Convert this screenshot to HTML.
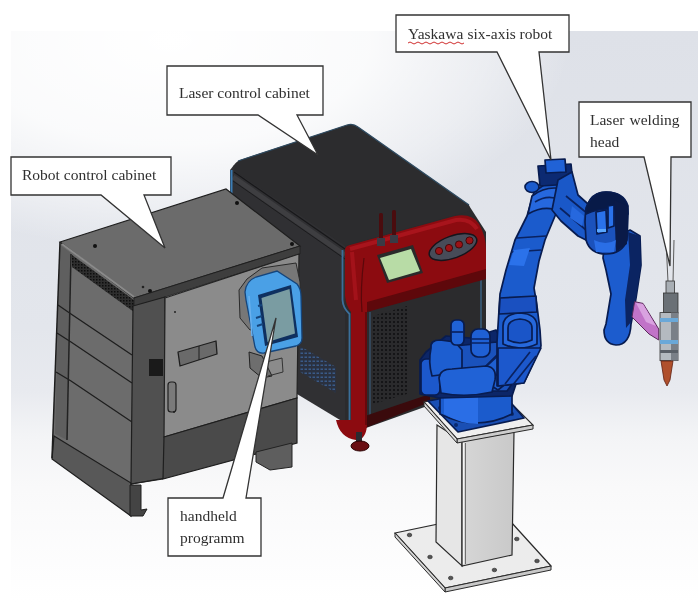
<!DOCTYPE html>
<html><head><meta charset="utf-8">
<style>
html,body{margin:0;padding:0;background:#fff;width:700px;height:602px;overflow:hidden}
svg{display:block;filter:blur(0.45px)}
text{font-family:"Liberation Serif",serif;font-size:15.5px;fill:#303030}
</style></head><body>
<svg width="700" height="602" viewBox="0 0 700 602">
<defs>
<linearGradient id="bg" x1="0" y1="31" x2="0" y2="602" gradientUnits="userSpaceOnUse">
<stop offset="0" stop-color="#dee1e8"/>
<stop offset="0.52" stop-color="#e3e6ec"/>
<stop offset="0.63" stop-color="#e8eaef"/>
<stop offset="0.71" stop-color="#f3f4f6"/>
<stop offset="0.8" stop-color="#f9f9fa"/>
<stop offset="1" stop-color="#ffffff"/>
</linearGradient>
<radialGradient id="glare" cx="0" cy="0" r="1" gradientUnits="userSpaceOnUse" gradientTransform="translate(170 40) scale(400 210)">
<stop offset="0" stop-color="#ffffff" stop-opacity="1"/>
<stop offset="0.5" stop-color="#ffffff" stop-opacity="0.85"/>
<stop offset="0.8" stop-color="#ffffff" stop-opacity="0.4"/>
<stop offset="1" stop-color="#ffffff" stop-opacity="0"/>
</radialGradient>
<pattern id="vent" width="3" height="3" patternUnits="userSpaceOnUse">
<rect width="3" height="3" fill="#2e2e2e"/><rect width="1.5" height="1.5" fill="#0e0e0e"/>
</pattern>
<pattern id="grille" width="4" height="4" patternUnits="userSpaceOnUse">
<rect width="4" height="4" fill="#2a2a2c"/><circle cx="2" cy="2" r="1" fill="#0e0e10"/>
</pattern>
<pattern id="bgrille" width="4" height="4" patternUnits="userSpaceOnUse">
<rect width="4" height="4" fill="#2a3140"/><rect x="0.5" y="0.5" width="2.5" height="1.5" fill="#3a5a88"/>
</pattern>
<linearGradient id="colR" x1="0" y1="0" x2="1" y2="0"><stop offset="0" stop-color="#d6d6d6"/><stop offset="1" stop-color="#c9c9c9"/></linearGradient>
</defs>
<rect width="700" height="602" fill="#fff"/>
<rect x="11" y="31" width="687" height="571" fill="url(#bg)"/>
<rect x="11" y="31" width="687" height="571" fill="url(#glare)"/>

<!-- ===== Laser cabinet ===== -->
<g id="laser">
<!-- right face -->
<polygon points="345,240 468,204 486,232 486,385 366,428 345,423" fill="#2b2b2d"/>
<!-- left face -->
<polygon points="234,165 345,242 345,423 297,394 230,350 230,170" fill="#303033"/>
<!-- top face -->
<path d="M240,160 L347,125 Q353,123 358,127 L469,205 L470,211 L345,246 L236,172 Q229,166 240,160 Z" fill="#2c2c2e"/>
<path d="M238,161 L347,125 Q353,123 358,127 L469,205" stroke="#2e4a60" stroke-width="1.3" fill="none"/>
<path d="M234,172 L345,249" stroke="#18181a" stroke-width="1.2" fill="none"/>
<path d="M233,177 L345,255" stroke="#3e3e41" stroke-width="5" fill="none"/>
<path d="M233,181 L345,259" stroke="#1c1c1e" stroke-width="1" fill="none"/>
<path d="M231.5,170 L231.5,205" stroke="#3b7db5" stroke-width="2"/>
<path d="M342.5,250 L342.5,300 Q343,308 349.5,314 L349.5,420" stroke="#3b6f9a" stroke-width="1.8" fill="none"/>
<polygon points="300,346 336,367 336,393 300,372" fill="url(#bgrille)"/>

<polygon points="373,316 407,306 407,394 373,404" fill="url(#grille)"/>
<path d="M481,280 L481,386" stroke="#3a6080" stroke-width="1.5"/>
<path d="M370,312 L370,420" stroke="#3a5a78" stroke-width="1.2"/>
<!-- bottom trim -->
<path d="M365,416 L430,394 L430,402 L365,428 Z" fill="#3a0a0c"/>
<!-- red top panel -->
<path d="M345,250 Q345,246 350,245 L455,216 Q472,213 479,224 Q486,236 486,250 L486,278 L367,311 L367,425 Q366,440 356,440 Q340,438 336,420 L351,420 L351,312 Q346,306 345,296 Z" fill="#8c0b10"/>
<path d="M367,302 L486,269 L486,279 L367,312 Z" fill="#5e080b"/>
<path d="M350,249 L456,220 Q470,218 477,229" stroke="#a8141c" stroke-width="4" fill="none"/>
<path d="M352,252 L356,300" stroke="#a3121a" stroke-width="4" fill="none"/>
<path d="M364,258 Q360,290 362,312" stroke="#5a080b" stroke-width="1.2" fill="none"/>
<path d="M366,312 L366,425" stroke="#5a080b" stroke-width="1.5" fill="none"/>
<!-- screen -->
<polygon points="377,255 413,245 423,273 387,283" fill="#2a2a2a"/>
<polygon points="380,258 411,249 420,271 389,280" fill="#b8dca6"/>
<!-- button pod -->
<ellipse cx="453" cy="247" rx="25" ry="11" transform="rotate(-20 453 247)" fill="#474b58" stroke="#15151c" stroke-width="1.5"/>
<circle cx="439" cy="251" r="3.6" fill="#9a1216" stroke="#300" stroke-width="0.8"/>
<circle cx="449" cy="248" r="3.6" fill="#9a1216" stroke="#300" stroke-width="0.8"/>
<circle cx="459" cy="244.5" r="3.6" fill="#9a1216" stroke="#300" stroke-width="0.8"/>
<circle cx="469.5" cy="240.5" r="3.6" fill="#9a1216" stroke="#300" stroke-width="0.8"/>
<!-- antennas -->
<rect x="379" y="213" width="4" height="30" rx="1.5" fill="#4a0c0e"/>
<rect x="392" y="210" width="4" height="30" rx="1.5" fill="#4a0c0e"/>
<rect x="377" y="238" width="8" height="8" fill="#3a3a44"/>
<rect x="390" y="235" width="8" height="8" fill="#3a3a44"/>
<!-- foot -->
<rect x="356" y="432" width="6" height="10" fill="#2a2a30"/>
<ellipse cx="360" cy="446" rx="9" ry="5" fill="#6a0e12" stroke="#2a0000"/>
</g>

<!-- ===== Robot control cabinet ===== -->
<g id="rcab">
<!-- left face -->
<polygon points="60,242 134,298 132,515 52,458" fill="#6c6c6c"/>
<polygon points="60,245 71,253 67,440 55,434" fill="#5f5f5f"/>
<polygon points="72,255 134,300 134,312 72,267" fill="url(#vent)"/>
<path d="M58,305 L71,314 L132,355 M57,333 L71,342 L132,383 M56,372 L71,381 L132,422" stroke="#1e1e1e" stroke-width="1.3" fill="none"/>
<path d="M71,254 L67,440" stroke="#222" stroke-width="1.5"/>
<polygon points="54,436 131,483 131,516 52,459" fill="#585858" stroke="#1e1e1e" stroke-width="1.2"/>
<path d="M60,242 L52,458" stroke="#1e1e1e" stroke-width="1.5"/>
<!-- top face -->
<polygon points="60,242 226,189 300,246 134,298" fill="#6b6b6b" stroke="#1e1e1e" stroke-width="1.2"/>
<path d="M62,244 L134,297" stroke="#8a8a8a" stroke-width="2"/>
<circle cx="95" cy="246" r="2" fill="#111"/>
<circle cx="143" cy="287" r="1.3" fill="#222"/>
<circle cx="237" cy="203" r="2" fill="#111"/>
<circle cx="292" cy="244" r="2" fill="#111"/>
<circle cx="150" cy="291" r="2" fill="#111"/>
<!-- front lip -->
<polygon points="134,298 300,246 300,254 134,307" fill="#3e3e3e" stroke="#1e1e1e" stroke-width="0.8"/>
<!-- front pillar -->
<polygon points="133,306 165,297 165,478 131,484" fill="#505050" stroke="#1e1e1e" stroke-width="1.2"/>
<rect x="149" y="359" width="14" height="17" fill="#1a1a1a"/>
<!-- door -->
<polygon points="165,298 299,254 297,398 164,437" fill="#8b8b8b" stroke="#222" stroke-width="1.2"/>
<!-- plinth front -->
<polygon points="164,437 297,398 297,443 163,479" fill="#4a4a4a" stroke="#1e1e1e" stroke-width="1.2"/>
<path d="M131,484 L163,479" stroke="#1e1e1e" stroke-width="1.2"/>
<!-- feet -->
<polygon points="130,485 141,485 141,510 147,509 143,516 130,516" fill="#444" stroke="#1e1e1e"/>
<polygon points="256,452 292,443 292,467 270,470 256,462" fill="#5e5e5e" stroke="#222"/>
<!-- door handle -->
<polygon points="178,352 216,341 217,354 180,366" fill="#6a6a6a" stroke="#1e1e1e" stroke-width="1.3" stroke-linejoin="round"/>
<path d="M199,346 L199,360" stroke="#1e1e1e" stroke-width="1"/>
<rect x="168" y="382" width="8" height="30" rx="3" fill="#7a7a7a" stroke="#1e1e1e" stroke-width="1.2"/>
<circle cx="174" cy="412" r="1" fill="#222"/><circle cx="175" cy="312" r="1" fill="#222"/>
<!-- pendant -->
<polygon points="239,290 247,279 262,268 296,263 300,282 301,320 250,330 240,318" fill="#777" stroke="#2a2a2a" stroke-width="1"/>
<path d="M245,292 Q246,281 256,277 L277,271 L297,284 Q301,289 301,296 L302,338 Q302,344 296,346 L264,353 Q257,354 255,347 L246,300 Z" fill="#4aa0e6" stroke="#15457c" stroke-width="1.3"/>
<path d="M249,296 L252,336" stroke="#6ab0ee" stroke-width="1.5" fill="none"/>
<polygon points="258,295 291,285 298,337 265,346" fill="#0f3060"/>
<polygon points="261.5,298 289.5,289 295,333.5 267.5,342" fill="#7a9ca2"/>
<path d="M256,318 L262,316 M257,326 L263,324 M258,306 L262,305" stroke="#15457c" stroke-width="2"/>
<path d="M249,352 L262,356 L272,376 L262,378 L250,368 Z" fill="#6e6e6e" stroke="#222"/>
<path d="M266,362 L282,358 L283,372 L268,376" fill="none" stroke="#333" stroke-width="1"/>
</g>

<!-- ===== Pedestal ===== -->
<g id="ped">
<polygon points="395,533 501,511 551,566 445,588" fill="#ececec" stroke="#2a2a2a" stroke-width="1.2"/>
<polygon points="445,588 551,566 551,570 445,592" fill="#c8c8c8" stroke="#2a2a2a" stroke-width="1"/>
<polygon points="395,533 445,588 445,592 395,537" fill="#d4d4d4" stroke="#2a2a2a" stroke-width="1"/>
<polygon points="437,425 462,441 462,566 436,542" fill="#e6e6e6" stroke="#2a2a2a" stroke-width="1.2"/>
<polygon points="462,441 514,432 512,555 462,566" fill="url(#colR)" stroke="#2a2a2a" stroke-width="1.2"/>
<path d="M463.5,443 L463.5,564" stroke="#f4f4f4" stroke-width="1"/><path d="M465.5,443 L465.5,564" stroke="#555" stroke-width="0.8"/>
<g fill="#555" stroke="#222" stroke-width="0.6">
<ellipse cx="409.5" cy="535" rx="2.3" ry="1.8"/><ellipse cx="430" cy="557" rx="2.3" ry="1.8"/>
<ellipse cx="450.7" cy="578" rx="2.3" ry="1.8"/><ellipse cx="494.4" cy="570" rx="2.3" ry="1.8"/>
<ellipse cx="537" cy="561" rx="2.3" ry="1.8"/><ellipse cx="516.8" cy="539" rx="2.3" ry="1.8"/>
</g>
<!-- top plate -->
<polygon points="424,402 496,388 533,425 457,439" fill="#efefef" stroke="#2a2a2a" stroke-width="1.2"/>
<polygon points="457,439 533,425 533,429 457,443" fill="#cdcdcd" stroke="#2a2a2a" stroke-width="1"/>
<polygon points="424,402 457,439 457,443 424,406" fill="#d8d8d8" stroke="#2a2a2a" stroke-width="1"/>
</g>

<!-- ===== Robot ===== -->
<g id="robot" stroke="#081c50" stroke-width="1.7" stroke-linejoin="round">
<!-- base flange -->
<polygon points="428,401 498,388 524,418 458,432" fill="#1a4fb4"/>
<g fill="#0a2a70" stroke="none"><circle cx="440" cy="408" r="2"/><circle cx="456" cy="425" r="2"/><circle cx="512" cy="414" r="2"/><circle cx="500" cy="397" r="2"/></g>
<!-- cylinder -->
<path d="M440,390 L440,414 Q476,432 512,414 L512,388 Z" fill="#1b5bcc"/>
<path d="M444,392 L444,414 Q460,424 478,424 L478,396 Z" fill="#2a6ee6" stroke="none"/>
<!-- dark backing -->
<path d="M426,352 L446,336 L470,338 L496,330 L520,372 L512,396 L440,398 L420,394 L420,360 Z" fill="#0c2668"/>
<!-- turret body behind -->
<path d="M454,346 L497,342 L511,357 L518,376 L507,391 L448,391 Z" fill="#1a52bc"/>
<path d="M476,376 L506,346 L520,372 L498,390 Z" fill="#1f60d2"/>
<path d="M480,372 L504,350 M488,382 L514,360" stroke="#0a2260" fill="none"/>
<!-- turret left lobe -->
<rect x="421" y="359" width="19" height="36" rx="5" fill="#1c58cc"/>
<!-- big blob -->
<path d="M431,348 Q430,340 440,340 L455,342 L462,350 L462,372 L432,376 Q428,362 431,348 Z" fill="#1d5ed0"/>
<!-- motors -->
<rect x="451" y="320" width="13" height="25" rx="5" fill="#2062d6"/>
<path d="M451,332 L464,332" stroke="#0a2260" fill="none"/>
<rect x="471" y="329" width="19" height="28" rx="7" fill="#1f60d4"/>
<path d="M471,339 L490,339 M471,343 L490,343" stroke="#0a2260" fill="none"/>
<!-- front flap -->
<path d="M439,378 Q440,369 452,369 L486,366 Q497,367 495,380 L492,392 Q466,398 441,393 Z" fill="#2062d6"/>
<!-- lower arm -->
<path d="M497,384 L497,342 L498.5,318 L500,294 L506,270 L515,240 L527,216 L534,192 L548,182 L566,184 L563,195 L555,216 L545,240 L539,261 L534,288 L537,306 L540,330 L541,346 L524,383 L497,386 Z" fill="#1b5bcc"/>
<path d="M503,344 L503,326 Q503,314 520,313 Q537,314 537,326 L537,344 Q520,352 503,344 Z" fill="#2668dc"/>
<path d="M508,340 L508,328 Q508,320 520,319 Q532,320 532,328 L532,340 Q520,346 508,340 Z" fill="#1a55c8"/>
<path d="M500,298 L536,296 L537,312 L499,314 Z" fill="#1a50c0"/>
<path d="M498,348 L541,348 L524,383 L498,386 Z" fill="#1c58cc"/>
<path d="M505,384 L530,352 M512,386 L536,356" stroke="#0a2260" fill="none"/>
<path d="M532,196 Q548,184 566,190 L560,212 Q546,204 528,214 Z" fill="#2668de"/>
<path d="M535,202 Q548,194 560,200" stroke="#0a2260" fill="none"/>
<path d="M517,238 L546,236 M512,252 L541,250" stroke="#0a2260" fill="none"/>
<path d="M509,265 L514,250 L530,248 L524,266 Z" fill="#2b72ea" stroke="none"/>
<!-- top block -->
<path d="M538,166 L571,164 L573,184 L540,186 Z" fill="#0c2a72"/>
<polygon points="545,160 565,159 566,172 546,173" fill="#2062d6"/>
<ellipse cx="532" cy="187" rx="7" ry="5.5" fill="#1b5bcc"/>
<!-- forearm -->
<path d="M558,180 L572,172 L578,195 L588,204 L590,242 L578,236 L561,221 L552,210 Z" fill="#1a58c8"/>
<path d="M566,196 L588,214 M560,208 L586,230" stroke="#0a2260" fill="none"/>
<path d="M572,206 L584,216 L582,226 L570,218 Z" fill="#2668de" stroke="none"/>
<!-- descending link -->
<path d="M603,258 Q604,242 618,236 L630,230 L640,236 L641,265 L636,298 L631,324 Q630,345 616,345 Q604,344 604,330 L606,324 L611,294 L606,270 Z" fill="#1c5cce"/>
<path d="M628,232 L640,236 L641,265 L636,298 L631,322 L626,328 L625,300 L630,265 Z" fill="#0b2462" stroke="none"/>
<!-- wrist joint -->
<path d="M585,222 Q585,192 606,192 Q627,192 628,214 L627,240 Q622,254 606,254 Q590,254 586,240 Z" fill="#1b52bc"/>
<path d="M586,208 Q592,192 606,192 Q624,192 628,206 L628,214 Q608,204 586,214 Z" fill="#081a48"/>
<path d="M614,200 L628,206 L627,244 L616,252 Z" fill="#0a1a48" stroke="none"/>
<path d="M596,212 L606,210 L607,232 L597,234 Z M608,206 L614,205 L614,226 L608,228 Z" fill="#2a72ea"/>
<path d="M594,240 Q606,246 616,240 L614,252 L596,252 Z" fill="#2a6ee6" stroke="none"/>
<rect x="597" y="229" width="9" height="3" fill="#5aa8ff" stroke="none"/>
</g>

<!-- pink bracket -->
<polygon points="634.6,301.7 643,303.4 658.7,329 658.7,340 649,334 632,317" fill="#c173c8" stroke="#5a2a5a" stroke-width="1"/>
<polygon points="636,303 643,304 656,326 646,322" fill="#d9a2e0" stroke="none"/>
<!-- welding head cables -->
<path d="M666,240 L668,282 M674,240 L673,282" stroke="#5a5a5a" stroke-width="1" fill="none"/>
<!-- welding head -->
<rect x="666" y="281" width="8.5" height="14" fill="#a8aeb4" stroke="#333" stroke-width="0.8"/>
<rect x="663.5" y="293" width="14.5" height="20" fill="#6a7076" stroke="#333" stroke-width="0.8"/>
<rect x="660" y="312.6" width="18" height="48" fill="#b4bac0" stroke="#333" stroke-width="0.8"/>
<rect x="671" y="312.6" width="7" height="48" fill="#7a8088" stroke="none"/>
<rect x="660" y="318" width="18" height="4" fill="#6aa8d8"/>
<rect x="660" y="340" width="18" height="4" fill="#6aa8d8"/>
<rect x="660" y="350" width="18" height="3" fill="#5a6068"/>
<polygon points="661,361 673,361 670,380 667,386 664,380" fill="#b0502c" stroke="#602010" stroke-width="0.8"/>
<!-- ===== Callouts ===== -->
<g stroke="#333" stroke-width="1.3" fill="#fff" stroke-linejoin="miter">
<path d="M11,157 L171,157 L171,195 L144,195 L165,248 L101,195 L11,195 Z"/>
<path d="M167,66 L323,66 L323,115 L297,115 L318,155 L258,115 L167,115 Z"/>
<path d="M396,15 L569,15 L569,52 L539,52 L551,160 L497,52 L396,52 Z"/>
<path d="M579,102 L691,102 L691,157 L671,157 L670,266 L644,157 L579,157 Z"/>
<path d="M168,498 L223,498 L276,318 L246,498 L261,498 L261,556 L168,556 Z"/>
</g>
<text x="22" y="180">Robot control cabinet</text>
<text x="179" y="98">Laser control cabinet</text>
<text x="408" y="38.6">Yaskawa</text><text x="467.5" y="38.6">six-axis robot</text>
<path d="M408,43 q2,-2 4,0 t4,0 t4,0 t4,0 t4,0 t4,0 t4,0 t4,0 t4,0 t4,0 t4,0 t4,0 t4,0 t4,0" stroke="#d03030" stroke-width="1" fill="none"/>
<text x="590" y="124.5">Laser</text><text x="629.5" y="124.5">welding</text>
<text x="590" y="146.8">head</text>
<text x="180" y="521">handheld</text>
<text x="180" y="543">programm</text>
</svg>
</body></html>
